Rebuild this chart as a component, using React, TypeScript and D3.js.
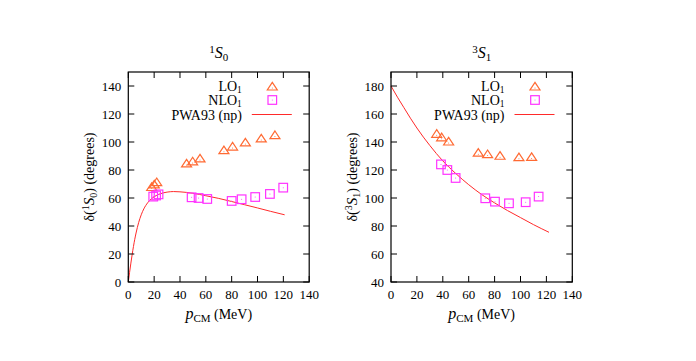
import React from "react";
import * as d3 from "d3";

// ---- Data ----
// 1S0 panel
const s0LOx = [18.1, 20.1, 22.0, 45.1, 49.8, 55.5, 74.0, 80.7, 90.6, 102.9, 113.5];
const s0LOy = [67.5, 69.3, 71.0, 84.3, 85.8, 87.9, 93.8, 96.4, 99.3, 102.2, 104.6];
const s0NLOx = [19.3, 21.5, 23.4, 49.0, 54.4, 61.1, 80.0, 87.7, 98.2, 109.6, 119.9];
const s0NLOy = [61.0, 61.8, 62.6, 60.5, 60.0, 59.3, 57.9, 59.1, 60.7, 62.9, 67.4];
const s0PWAx = [0, 1, 2, 3, 4, 5, 6, 8, 10, 12, 15, 18, 20, 25, 30, 35, 40, 50, 60, 70, 80, 90, 100, 110, 121];
const s0PWAy = [0, 6.9, 13.5, 19.7, 25.4, 30.5, 35, 42.4, 48, 52.2, 56.6, 59.5, 60.9, 63.1, 64.2, 64.6, 64.4, 63.4, 61.6, 59.7, 57.5, 55.2, 52.9, 50.5, 48.0];

// 3S1 panel
const s1LOx = [35.3, 39.1, 44.5, 67.4, 74.6, 84.2, 98.8, 108.6];
const s1LOy = [145.5, 143.0, 140.0, 132.0, 131.0, 129.8, 128.8, 129.0];
const s1NLOx = [38.6, 43.5, 49.9, 72.8, 80.3, 91.1, 104.0, 114.0];
const s1NLOy = [124.0, 120.0, 114.3, 99.8, 97.4, 96.2, 97.0, 101.0];
const s1PWAx = [0, 5, 10, 15, 20, 25, 30, 40, 50, 60, 70, 80, 90, 100, 110, 122];
const s1PWAy = [180, 172, 164.5, 157, 150, 143.5, 137.5, 126.5, 117.5, 109.5, 102.5, 96.5, 91, 86, 81, 75.5];

const xTicks = [0, 20, 40, 60, 80, 100, 120, 140];
const s0YTicks = [0, 20, 40, 60, 80, 100, 120, 140];
const s1YTicks = [40, 60, 80, 100, 120, 140, 160, 180];

const FONT = "'Liberation Serif', 'Times New Roman', Tinos, Times, serif";
const C_LO = "#ff6a33";
const C_NLO = "#ff33ff";
const C_PWA = "#ff2a2a";

type PanelProps = {
  left: number;
  right: number;
  yDomain: [number, number];
  yTicks: number[];
  loX: number[]; loY: number[];
  nloX: number[]; nloY: number[];
  pwaX: number[]; pwaY: number[];
  wave: { sup: string; sub: string };
};

const TOP = 72;
const BOTTOM = 282;

function Triangle({ cx, cy }: { cx: number; cy: number }) {
  const h = 4.6;
  const w = 5;
  return (
    <g>
      <path
        d={`M${cx},${cy - h} L${cx + w},${cy + h * 0.65} L${cx - w},${cy + h * 0.65} Z`}
        fill="none"
        stroke={C_LO}
        strokeWidth={1.2}
      />
      <circle cx={cx} cy={cy + 1} r={0.5} fill={C_LO} />
    </g>
  );
}

function Square({ cx, cy }: { cx: number; cy: number }) {
  const s = 4.3;
  return (
    <g>
      <rect x={cx - s} y={cy - s} width={2 * s} height={2 * s} fill="none" stroke={C_NLO} strokeWidth={1.2} />
      <circle cx={cx} cy={cy} r={0.5} fill={C_NLO} />
    </g>
  );
}

function Panel(p: PanelProps) {
  const x = d3.scaleLinear().domain([0, 140]).range([p.left, p.right]);
  const y = d3.scaleLinear().domain(p.yDomain).range([BOTTOM, TOP]);
  const line = d3
    .line<number>()
    .x((_, i) => x(p.pwaX[i]))
    .y((d) => y(d))
    .curve(d3.curveMonotoneX);
  const tl = 6;
  const cxMid = (p.left + p.right) / 2;
  const cyMid = (TOP + BOTTOM) / 2;
  const legTextX = p.left + 113.5;
  const legMarkX = p.left + 144;
  const legLineX0 = p.left + 123.5;
  const legLineX1 = p.left + 163.5;
  return (
    <g style={{ fontFamily: FONT }} fill="#000">
      {/* title */}
      <text x={cxMid} y={58} textAnchor="middle" fontSize={16}>
        <tspan fontSize={11} dy={-5}>{p.wave.sup}</tspan>
        <tspan fontStyle="italic" dy={5}>S</tspan>
        <tspan fontSize={11} dy={3}>{p.wave.sub}</tspan>
      </text>
      {/* curve */}
      <path d={line(p.pwaY) || ""} fill="none" stroke={C_PWA} strokeWidth={1} />
      {/* points */}
      {p.loX.map((v, i) => (
        <Triangle key={"lo" + i} cx={x(v)} cy={y(p.loY[i])} />
      ))}
      {p.nloX.map((v, i) => (
        <Square key={"nlo" + i} cx={x(v)} cy={y(p.nloY[i])} />
      ))}
      {/* frame */}
      <rect x={p.left} y={TOP} width={p.right - p.left} height={BOTTOM - TOP} fill="none" stroke="#000" strokeWidth={1.2} />
      {/* x ticks */}
      {xTicks.map((t) => (
        <g key={"xt" + t}>
          <line x1={x(t)} x2={x(t)} y1={BOTTOM} y2={BOTTOM - tl} stroke="#000" />
          <line x1={x(t)} x2={x(t)} y1={TOP} y2={TOP + tl} stroke="#000" />
          <text x={x(t)} y={299} textAnchor="middle" fontSize={13}>{t}</text>
        </g>
      ))}
      {/* y ticks */}
      {p.yTicks.map((t) => (
        <g key={"yt" + t}>
          <line x1={p.left} x2={p.left + tl} y1={y(t)} y2={y(t)} stroke="#000" />
          <line x1={p.right} x2={p.right - tl} y1={y(t)} y2={y(t)} stroke="#000" />
          <text x={p.left - 7} y={y(t) + 4.5} textAnchor="end" fontSize={13}>{t}</text>
        </g>
      ))}
      {/* x label */}
      <text x={cxMid} y={319} textAnchor="middle" fontSize={14}>
        <tspan fontStyle="italic" fontSize={16}>p</tspan>
        <tspan fontSize={11} dy={3}>CM</tspan>
        <tspan dy={-3}> (MeV)</tspan>
      </text>
      {/* y label */}
      <text transform={`translate(${p.left - 34},${cyMid}) rotate(-90)`} textAnchor="middle" fontSize={14}>
        <tspan>δ(</tspan>
        <tspan fontSize={10} dy={-5}>{p.wave.sup}</tspan>
        <tspan fontStyle="italic" fontSize={15} dy={5}>S</tspan>
        <tspan fontSize={10} dy={3}>{p.wave.sub}</tspan>
        <tspan dy={-3}>) (degrees)</tspan>
      </text>
      {/* legend */}
      <text x={legTextX} y={90.5} textAnchor="end" fontSize={14}>
        LO<tspan fontSize={9.5} dy={2.5}>1</tspan>
      </text>
      <Triangle cx={legMarkX} cy={87} />
      <text x={legTextX} y={104.5} textAnchor="end" fontSize={14}>
        NLO<tspan fontSize={9.5} dy={2.5}>1</tspan>
      </text>
      <Square cx={legMarkX} cy={100} />
      <text x={legTextX} y={119.5} textAnchor="end" fontSize={14}>PWA93 (np)</text>
      <line x1={legLineX0} x2={legLineX1} y1={114.5} y2={114.5} stroke={C_PWA} strokeWidth={1} />
    </g>
  );
}

export default function App() {
  return (
    <svg
      width={696}
      height={361}
      style={{ position: "absolute", left: 0, top: 0, background: "#fff" }}
    >
      <rect width={696} height={361} fill="#fff" />
      <Panel
        left={128.3}
        right={309.2}
        yDomain={[0, 150]}
        yTicks={s0YTicks}
        loX={s0LOx} loY={s0LOy}
        nloX={s0NLOx} nloY={s0NLOy}
        pwaX={s0PWAx} pwaY={s0PWAy}
        wave={{ sup: "1", sub: "0" }}
      />
      <Panel
        left={391}
        right={572.3}
        yDomain={[40, 190]}
        yTicks={s1YTicks}
        loX={s1LOx} loY={s1LOy}
        nloX={s1NLOx} nloY={s1NLOy}
        pwaX={s1PWAx} pwaY={s1PWAy}
        wave={{ sup: "3", sub: "1" }}
      />
    </svg>
  );
}
